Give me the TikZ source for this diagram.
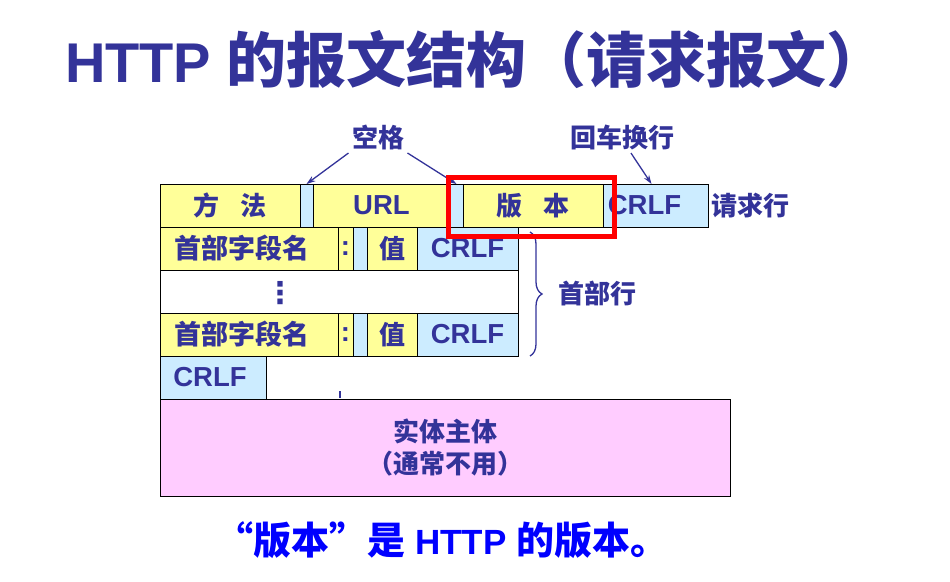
\documentclass[tikz,border=0pt]{standalone}
\usepackage{fontspec}
\setmainfont{Liberation Sans}
\newfontfamily\cjk{Noto Sans CJK SC}
\newfontfamily\sym{DejaVu Sans}
\usetikzlibrary{positioning,arrows.meta,decorations.pathreplacing}
\definecolor{ink}{HTML}{333399}
\definecolor{yfill}{HTML}{FFFF99}
\definecolor{bfill}{HTML}{CCECFF}
\definecolor{pfill}{HTML}{FFCCFF}
\tikzset{
  cell/.style={draw=black,line width=1pt,inner sep=0pt,outer sep=0pt,minimum height=43pt,
    text=ink,font=\fontsize{27.5}{32}\selectfont\bfseries},
  ycell/.style={cell,fill=yfill},
  bcell/.style={cell,fill=bfill},
  lbl/.style={text=ink,font=\cjk\fontsize{26}{30}\selectfont\bfseries},
  arr/.style={draw=ink,line width=1.3pt,-{Stealth[length=9pt,width=6pt]}}
}

\begin{document}
\begin{tikzpicture}[x=1pt,y=-1pt,node distance=0pt]
  \useasboundingbox (0,0) rectangle (950,581);
  \node(title) at (476,60) [text=ink,font=\fontsize{56}{60}\selectfont\bfseries]
    {HTTP {\cjk\fontsize{60}{60}\selectfont 的报文结构（请求报文）}};
  % request line
  \node(method) at (160,184) [ycell,anchor=north west,minimum width=140pt] {{\cjk\fontsize{26}{32}\selectfont 方\hspace{.8em}法}};
  \node[right=of method](sp1)   [bcell,minimum width=13pt]  {};
  \node[right=of sp1](url)      [ycell,minimum width=137pt] {URL};
  \node[right=of url](sp2)      [bcell,minimum width=13pt]  {};
  \node[right=of sp2](version)  [ycell,minimum width=140pt] {{\cjk\fontsize{26}{32}\selectfont 版\hspace{.8em}本}};
  \node[right=of version](crlf1)[bcell,minimum width=105pt] {CRLF\hspace{22pt}\null};
  % header lines
  \node[below=of method.south west,anchor=north west](name1) [ycell,minimum width=178pt] {\cjk\fontsize{27}{32}\selectfont 首部字段名\hspace{14pt}\null};
  \node[right=of name1](colon1) [ycell,minimum width=15pt]  {:};
  \node[right=of colon1](sp3)   [bcell,minimum width=14pt]  {};
  \node[right=of sp3](val1)     [ycell,minimum width=50pt]  {\cjk\fontsize{26}{32}\selectfont 值};
  \node[right=of val1](crlf2)   [bcell,minimum width=101pt] {CRLF};
  \node[below=of name1.south west,anchor=north west](gap) [cell,fill=white,minimum width=358pt] {};
  \node(dots) at (280,293) [text=ink,font=\sym\fontsize{30}{32}\selectfont\bfseries] {⋮};
  \node[below=of gap.south west,anchor=north west](name2) [ycell,minimum width=178pt] {\cjk\fontsize{27}{32}\selectfont 首部字段名\hspace{14pt}\null};
  \node[right=of name2](colon2) [ycell,minimum width=15pt]  {:};
  \node[right=of colon2](sp4)   [bcell,minimum width=14pt]  {};
  \node[right=of sp4](val2)     [ycell,minimum width=50pt]  {\cjk\fontsize{26}{32}\selectfont 值};
  \node[right=of val2](crlf4)   [bcell,minimum width=101pt] {CRLF};
  % empty line and body
  \node[below=of name2.south west,anchor=north west](crlf5) [bcell,minimum width=106pt] {CRLF\hspace{6pt}\null};
  \draw[ink,line width=2.5pt] (340,391) -- (340,398);
  \node[below=of crlf5.south west,anchor=north west](entity) [cell,fill=pfill,minimum width=570pt,
    minimum height=97pt,align=center,font=\cjk\fontsize{26}{32}\selectfont\bfseries] {实体主体\\（通常不用）};
  % labels
  \node(spacelbl) at (378,137) [lbl] {空格};
  \node(crlflbl)  at (622,137) [lbl] {回车换行};
  \node[right=of crlf1](reqlbl) [lbl] {请求行};
  \draw[arr] (spacelbl.south west) -- (sp1.north);
  \draw[arr] (spacelbl.south east) -- (sp2.north);
  \draw[arr] ([xshift=9pt]crlflbl.south) -- ([xshift=-4pt]crlf1.north);
  \draw[ink,line width=1.3pt,decorate,decoration={brace,amplitude=12pt}]
    ([xshift=12pt,yshift=-5pt]crlf2.north east) -- ([xshift=12pt]crlf4.south east);
  \node(hdrlbl) at (597,293) [lbl] {首部行};
  \draw[red,line width=5pt] ([xshift=-15pt,yshift=7pt]version.north west)
    rectangle ([xshift=11pt,yshift=-9pt]version.south east);
  \node(note) at (442,540) [text=blue,font=\fontsize{35}{38}\selectfont\bfseries]
    {{\cjk\fontsize{38}{38}\selectfont “版本”是} HTTP {\cjk\fontsize{38}{38}\selectfont 的版本。}};
\end{tikzpicture}
\end{document}
